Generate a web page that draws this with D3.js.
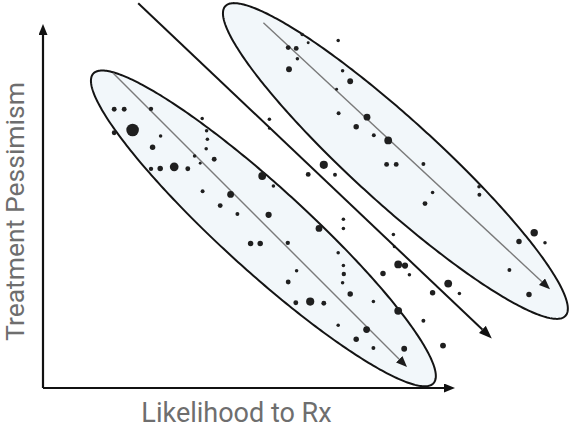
<!DOCTYPE html>
<html>
<head>
<meta charset="utf-8">
<script src="https://cdn.jsdelivr.net/npm/d3@7/dist/d3.min.js"></script>
<style>
  html, body { margin: 0; padding: 0; background: #ffffff; }
  svg { display: block; }
  .axis-title { font-family: Roboto, "Noto Sans", sans-serif; font-size: 27px; fill: #6e6e6e; }
  .axis-title.vertical { font-size: 26.5px; }
</style>
</head>
<body>
<svg id="chart" width="571" height="427"></svg>
<script>
// Respondents: likelihood to prescribe (x) vs. treatment pessimism (y), dot weight = panel size
const likelihood = [
  17.8, 20.3, 27.0, 22.4, 17.8, 29.4, 27.4, 39.8, 40.9, 41.1,
  40.8, 37.9, 42.8, 39.3, 32.8, 29.3, 27.0, 36.2, 39.9, 46.9,
  54.8, 57.6, 66.3, 70.2, 73.0, 44.3, 48.6, 56.4, 69.0, 75.1,
  75.1, 51.9, 54.3, 61.2, 73.8, 75.1, 75.2, 63.4, 74.9, 61.3,
  76.8, 66.8, 63.2, 70.2, 82.6, 88.8, 90.5, 85.0, 91.6, 101.3,
  97.4, 104.1, 88.8, 95.1, 73.8, 80.9, 78.3, 82.6, 90.3, 100.0,
  64.8, 66.3, 73.8, 61.3, 63.3, 63.6, 61.5, 74.9, 76.8, 73.4,
  73.9, 81.0, 78.3, 82.7, 86.3, 56.6, 56.6, 85.9, 88.3, 95.1,
  97.4, 95.5, 109.0, 109.1, 122.8, 119.0, 125.5, 116.6, 121.5, 87.6,
  87.8
];
const pessimism = [
  69.7, 69.7, 69.8, 64.5, 63.8, 63.0, 60.2, 67.4, 64.3, 62.2,
  59.8, 58.0, 57.2, 56.2, 55.3, 54.9, 54.8, 54.8, 49.2, 48.4,
  53.0, 50.5, 53.4, 55.8, 53.3, 45.6, 43.5, 43.3, 39.9, 42.2,
  39.9, 36.1, 36.1, 36.3, 33.8, 30.6, 28.5, 29.3, 26.3, 26.5,
  23.5, 21.6, 21.3, 21.2, 21.6, 30.9, 30.6, 28.6, 28.3, 26.1,
  23.8, 23.6, 19.3, 16.8, 15.7, 14.6, 12.2, 10.0, 9.8, 10.6,
  88.4, 86.3, 86.9, 85.1, 84.9, 82.3, 79.7, 79.3, 76.7, 74.7,
  68.7, 67.7, 65.3, 63.2, 61.9, 67.2, 64.9, 55.9, 55.9, 56.0,
  48.9, 46.1, 50.3, 48.3, 38.8, 36.6, 36.3, 29.5, 23.4, 38.4,
  35.3
];
const weight = [
  4, 4, 3, 36, 4, 1.7, 5.3, 1.7, 1.7, 1.7,
  1.7, 1.7, 4, 1, 16, 5.3, 3, 4, 2.3, 9,
  12.3, 1.7, 4, 13.7, 2.3, 4, 2.3, 7.3, 9, 1.7,
  1.7, 5.3, 5.3, 3, 1.7, 1.7, 3, 1.7, 1.7, 4,
  5.3, 13.7, 4, 4, 1.7, 12.3, 7.3, 5.3, 1.7, 12.3,
  5.3, 1.7, 12.3, 2.3, 1.7, 9, 5.3, 2.3, 6.3, 6.3,
  1.7, 1, 1.7, 4, 4, 1.7, 6.3, 1.7, 6.3, 1,
  2.3, 9, 5.3, 2.3, 12.3, 1.7, 1, 4, 4, 2.3,
  1.7, 4, 1.7, 2.3, 11, 5.3, 1.7, 2.3, 5.3, 1.7,
  1
];

// Segment envelopes (centre, semi-axes, tilt in degrees)
const segmentCx = [55.1, 88.1];
const segmentCy = [39.9, 56.75];
const segmentMajor = [57.5, 57.5];
const segmentMinor = [10.5, 10.5];
const segmentTilt = [-42.3, -42.3];

// Trend direction inside each segment
const trendX0 = [17.5, 55.1];
const trendY0 = [78.75, 91.3];
const trendX1 = [91.0, 126.75];
const trendY1 = [5.25, 24.7];

// Dividing line between the segments
const dividerX = [23.8, 112.2];
const dividerY = [96.2, 12.4];

// Axis extents
const xAxisEnd = 103;
const yAxisEnd = 91;

const xLabel = "Likelihood to Rx";
const yLabel = "Treatment Pessimism";

const svg = d3.select("#chart");

const x = d3.scaleLinear().domain([0, 132]).range([43, 571]);
const y = d3.scaleLinear().domain([0, 97]).range([388, 0]);
const r = d3.scaleSqrt().domain([0, 36]).range([0.5, 6.3]);

const defs = svg.append("defs");
function head(id, len, wid, color) {
  defs.append("marker")
    .attr("id", id)
    .attr("markerUnits", "userSpaceOnUse")
    .attr("viewBox", `0 0 ${len} ${wid}`)
    .attr("markerWidth", len)
    .attr("markerHeight", wid)
    .attr("refX", 0)
    .attr("refY", wid / 2)
    .attr("orient", "auto")
    .append("path")
    .attr("d", `M0,0L${len},${wid / 2}L0,${wid}Z`)
    .attr("fill", color);
}
head("axisHead", 11, 9, "#111");
head("trendHead", 11, 9, "#1c1c1c");
head("dividerHead", 13, 10, "#111");

// Draw a line whose arrowhead tip lands exactly on the end point
function arrow(g, x0, y0, x1, y1, headLen) {
  const p0 = [x(x0), y(y0)], p1 = [x(x1), y(y1)];
  const dx = p1[0] - p0[0], dy = p1[1] - p0[1];
  const len = Math.hypot(dx, dy);
  const bx = p1[0] - dx / len * headLen, by = p1[1] - dy / len * headLen;
  return g.append("line")
    .attr("x1", p0[0]).attr("y1", p0[1])
    .attr("x2", bx).attr("y2", by);
}

// Segment envelopes
const ellipseLine = d3.line().x(d => x(d[0])).y(d => y(d[1])).curve(d3.curveLinearClosed);
const envelopes = svg.append("g");
segmentCx.forEach((cx, i) => {
  const a = segmentMajor[i], b = segmentMinor[i];
  const th = segmentTilt[i] * Math.PI / 180;
  const pts = d3.range(0, 360, 1).map(deg => {
    const t = deg * Math.PI / 180;
    return [
      cx + a * Math.cos(t) * Math.cos(th) - b * Math.sin(t) * Math.sin(th),
      segmentCy[i] + a * Math.cos(t) * Math.sin(th) + b * Math.sin(t) * Math.cos(th)
    ];
  });
  envelopes.append("path")
    .attr("d", ellipseLine(pts))
    .attr("fill", "#f2f7fa")
    .attr("stroke", "#141414")
    .attr("stroke-width", 2);
});

// Trend arrows inside the envelopes
const trends = svg.append("g").attr("stroke", "#7a7a7a").attr("stroke-width", 1.4);
trendX0.forEach((_, i) => {
  arrow(trends, trendX0[i], trendY0[i], trendX1[i], trendY1[i], 11)
    .attr("marker-end", "url(#trendHead)");
});

// Respondent dots
svg.append("g")
  .selectAll("circle")
  .data(likelihood.map((v, i) => ({ x: v, y: pessimism[i], w: weight[i] })))
  .join("circle")
  .attr("cx", d => x(d.x))
  .attr("cy", d => y(d.y))
  .attr("r", d => r(d.w))
  .attr("fill", "#1f1f1f");

// Divider
const divider = svg.append("g").attr("stroke", "#141414").attr("stroke-width", 2);
arrow(divider, dividerX[0], dividerY[0], dividerX[1], dividerY[1], 13)
  .attr("marker-end", "url(#dividerHead)");

// Axes
const axes = svg.append("g").attr("stroke", "#111").attr("stroke-width", 2.2);
arrow(axes, 0, 0, xAxisEnd, 0, 11).attr("marker-end", "url(#axisHead)");
arrow(axes, 0, 0, 0, yAxisEnd, 11).attr("marker-end", "url(#axisHead)");

// Axis titles
svg.append("text")
  .attr("class", "axis-title")
  .attr("x", 236.5)
  .attr("y", 421.5)
  .attr("text-anchor", "middle")
  .text(xLabel);

svg.append("text")
  .attr("class", "axis-title vertical")
  .attr("transform", `translate(23.5, 211.5) rotate(-90)`)
  .attr("text-anchor", "middle")
  .text(yLabel);
</script>
</body>
</html>
